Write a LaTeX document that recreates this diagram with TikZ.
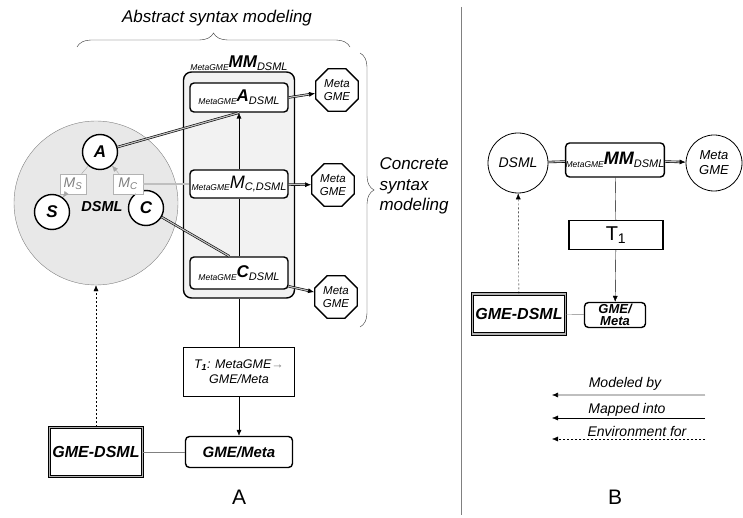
\documentclass[tikz,border=0pt]{standalone}
\usepackage{fontspec}
\setmainfont{Liberation Sans}
\usetikzlibrary{shapes.geometric,arrows.meta,decorations.pathreplacing}
\newcommand{\mglabel}[4][17]{\raisebox{-2.8pt}{\fontsize{8.5}{9}\selectfont #2}{\fontsize{#1}{#1}\selectfont\bfseries #3}\raisebox{-2.8pt}{\fontsize{11}{11}\selectfont #4}}
\begin{document}
\begin{tikzpicture}[x=1pt, y=-1pt, >={Latex[length=6pt,width=5pt]}, font=\itshape]
      \tikzset{
	  circ/.style={circle, draw=black, line width=1.4pt, fill=white, minimum size=35pt, inner sep=0pt, font=\fontsize{17}{17}\selectfont\bfseries\itshape},
	  bigcirc/.style={circle, draw=gray, fill=gray!18, minimum size=164pt, inner sep=0pt},
	  mapbox/.style={rectangle, draw=gray!60, fill=white, text=gray, minimum width=26pt, minimum height=20pt, inner sep=0pt, font=\fontsize{14}{14}\selectfont\itshape},
	  container/.style={rectangle, rounded corners=8pt, draw=black, line width=1.4pt, fill=gray!10},
	  inbox/.style={rectangle, rounded corners=4pt, draw=black, line width=1.4pt, fill=white, minimum width=98pt, inner sep=0pt},
	  oct/.style={regular polygon, regular polygon sides=8, draw=black, line width=1.4pt, fill=white, minimum size=46pt, inner sep=0pt, align=center, font=\fontsize{11.5}{13}\selectfont\itshape},
	  plainbox/.style={rectangle, draw=black, line width=1.4pt, fill=white, inner sep=0pt, align=center},
	  roundbox/.style={rectangle, rounded corners=4pt, draw=black, line width=1.4pt, fill=white, inner sep=0pt, align=center},
	  envbox/.style={rectangle, draw=black, line width=1.2pt, double=gray!60, double distance=1.4pt, fill=white, inner sep=0pt, font=\fontsize{16}{16}\selectfont\bfseries\itshape},
	  dbl/.style={draw=black, line width=0.6pt, double=gray!50, double distance=1.2pt},
	  envline/.style={dash pattern=on 2pt off 2pt},
	  brace/.style={decorate, decoration={brace, amplitude=14pt}, draw=black!80, thin},
	  legtext/.style={font=\fontsize{14}{14}\selectfont\itshape}
      }
      \useasboundingbox (0,0) rectangle (743,518);

      \node at (217,18) [font=\fontsize{17}{17}\selectfont\itshape] (abs) {Abstract syntax modeling};
      \draw[brace] (77,47) -- (350,47);
      \draw[brace] (360,53) -- (360,327);
      \node at (376,186) [anchor=west, align=left, font=\fontsize{17}{20.5}\selectfont\itshape] (conc) {Concrete\\syntax\\modeling};
      \draw[gray, thick] (461,7) -- (461,515);

      \node at (96,203) [bigcirc] (dsml) {};
      \node at (102,207) [font=\fontsize{14.5}{14.5}\selectfont\bfseries\itshape] (dsmltxt) {DSML};
      \node at (100,152) [circ] (cA) {A};
      \node at (52,212) [circ] (cS) {S};
      \node at (146,208) [circ] (cC) {C};
      \node at (73,184) [mapbox] (ms) {M\textsubscript{S}};
      \node at (128,184) [mapbox, minimum width=30pt] (mc) {M\textsubscript{C}};

      \node at (239,185) [container, minimum width=111pt, minimum height=226pt] (mm) {};
      \node at (mm.north) [above, inner sep=0.5pt] (mmtxt) {\mglabel{MetaGME}{MM}{DSML}};
      \node at (239,97.5) [inbox, minimum height=29pt] (bA) {\mglabel{MetaGME}{A}{DSML}};
      \node at (239,184) [inbox, minimum height=28pt] (bM) {\mglabel[18]{MetaGME}{\mdseries M}{C,DSML}};
      \node at (239,273) [inbox, minimum height=32pt] (bC) {\mglabel{MetaGME}{C}{DSML}};
      \node at (337,90) [oct] (o1) {Meta\\GME};
      \node at (333,185) [oct] (o2) {Meta\\GME};
      \node at (336,297) [oct] (o3) {Meta\\GME};

      \node at (239,372) [plainbox, minimum width=111pt, minimum height=49pt, font=\fontsize{12.5}{15}\selectfont\itshape] (t1) {T\textsubscript{\bfseries 1}: MetaGME{\color{gray}→}\\GME/Meta};
      \node at (239,452) [roundbox, minimum width=107pt, minimum height=31pt, font=\fontsize{15}{15}\selectfont\bfseries\itshape] (gm) {GME/Meta};
      \node at (96,452) [envbox, minimum width=93pt, minimum height=49pt] (gd) {GME-DSML};
      \node at (239,497) [font=\fontsize{21}{21}\selectfont\upshape] (labA) {A};

      \draw[gray!70] (cA) -- (ms);
      \draw[gray!70, ->] (ms) -- (cS);
      \draw[gray!70] (cC) -- (mc);
      \draw[gray!70, ->] (mc) -- (cA);
      \draw[dbl] (cA) -- (bA.south);
      \draw[dbl] (mc) -- (bM);
      \draw[dbl] (cC) -- (bC.120);
      \draw[dbl, ->] (bA.east) -- (o1);
      \draw[dbl, ->] (bM) -- (o2);
      \draw[dbl, ->] (bC.-15) -- (o3);
      \draw (bC) -- (bM);
      \draw[->] (bM) -- (bA);
      \draw (mm) -- (t1);
      \draw[->] (t1) -- (gm);
      \draw[gray] (gd) -- (gm);
      \draw[envline, ->] (gd) -- (dsml);

      \node at (518,163) [circle, draw=black, thick, fill=white, minimum size=60pt, inner sep=0pt, font=\fontsize{14}{14}\selectfont\itshape] (dsmlB) {DSML};
      \node at (615,160) [roundbox, minimum width=97pt, minimum height=34pt] (mmB) {\mglabel[18]{MetaGME}{MM}{DSML}};
      \node at (714,163) [circle, draw=black, thick, fill=white, minimum size=56pt, inner sep=0pt, align=center, font=\fontsize{13}{15}\selectfont\itshape] (metaB) {Meta\\GME};
      \node at (616,235) [plainbox, minimum width=94pt, minimum height=29pt, font=\fontsize{20}{20}\selectfont\upshape] (t1B) {T\textsubscript{1}};
      \node at (615,315) [roundbox, minimum width=61pt, minimum height=25pt, font=\fontsize{13}{12.5}\selectfont\bfseries\itshape] (gmB) {GME/\\Meta};
      \node at (519,314) [envbox, minimum width=93pt, minimum height=40pt] (gdB) {GME-DSML};

      \draw[dbl] (dsmlB) -- (mmB);
      \draw[dbl, ->] (mmB) -- (metaB);
      \draw (mmB) -- (t1B);
      \draw[->] (t1B) -- (gmB);
      \draw[gray] (gdB) -- (gmB);
      \draw[envline, ->] (gdB) -- (dsmlB);

      \coordinate (l1a) at (705,395);
      \coordinate (l1b) at (552,395);
      \coordinate (l2a) at (705,418);
      \coordinate (l2b) at (552,418);
      \coordinate (l3a) at (705,439);
      \coordinate (l3b) at (552,439);
      \draw[dbl, ->] (l1a) -- (l1b);
      \draw[->] (l2a) -- (l2b);
      \draw[envline, ->] (l3a) -- (l3b);
      \node at (625,384) [legtext] (lt1) {Modeled by};
      \node at (627,410) [legtext] (lt2) {Mapped into};
      \node at (637,431) [legtext] (lt3) {Environment for};
      \node at (615,497) [font=\fontsize{21}{21}\selectfont\upshape] (labB) {B};
    \end{tikzpicture}
\end{document}
